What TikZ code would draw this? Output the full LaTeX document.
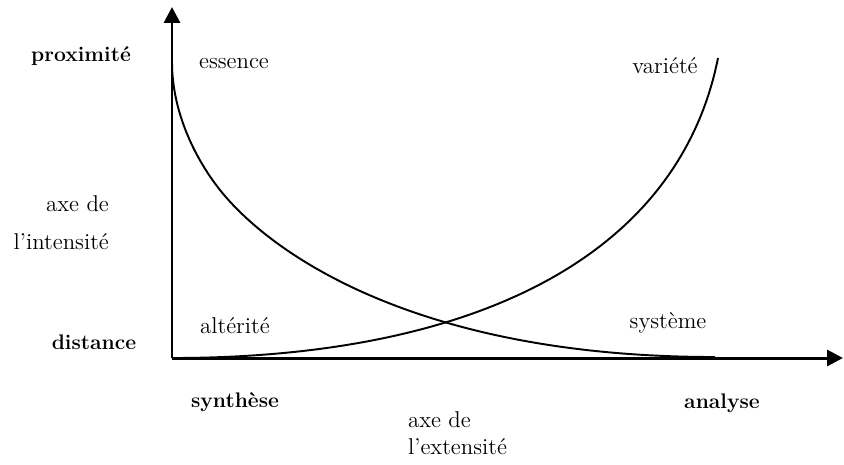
\documentclass[tikz,border=0pt]{standalone}
\usepackage{tikz}
\usetikzlibrary{arrows.meta}
\tikzset{lab/.style={draw=none,inner sep=1pt,font=\fontsize{13}{15.5}\selectfont},
  blab/.style={draw=none,inner sep=1pt,font=\fontsize{12}{14}\selectfont\bfseries},
  axis/.style={line width=1.7pt,-{Triangle[length=9pt,width=9pt]}},
  crv/.style={line width=1.1pt}}

\begin{document}
\begin{tikzpicture}[x=0.02cm,y=-0.02cm]
% \draw[help lines] (0,0) grid (844,464);
\useasboundingbox (0,0) rectangle (844,464);
\coordinate (o) at (172,358);
\coordinate (ytop) at (172,7);
\coordinate (xend) at (843,358);
\coordinate (ess0) at (172,62);
\coordinate (ess1) at (220,190);
\coordinate (ess2) at (715,357);
\coordinate (var2) at (718,58);
%
\node (prox) [blab] at (81,56) {proximité};
\node (dist) [blab] at (94,342) {distance};
\node (synth) [blab] at (235,402) {synthèse};
\node (anal) [blab] at (722,403) {analyse};
\node (ess) [lab] at (234,64) {essence};
\node (var) [lab] at (665,66) {variété};
\node (alt) [lab] at (235,326) {altérité};
\node (sys) [lab] at (668,323) {système};
\node (intens) [lab,align=right,anchor=east] at (111,223) {axe de\\[6pt]l’intensité};
\node (extens) [lab,align=left,anchor=west] at (406,433) {axe de\\l’extensité};
%
% essence -> systeme
\draw[crv] (ess0) .. controls (172,112) and (195.2,158.8) .. (ess1)
  .. controls (269.6,252.4) and (415,357) .. (ess2);
% alterite -> variete
\draw[crv] (o) .. controls (472,358) and (678,258) .. (var2);
\draw[axis] (o) -- (ytop);
\draw[axis] (o) -- (xend);
\end{tikzpicture}
\end{document}
